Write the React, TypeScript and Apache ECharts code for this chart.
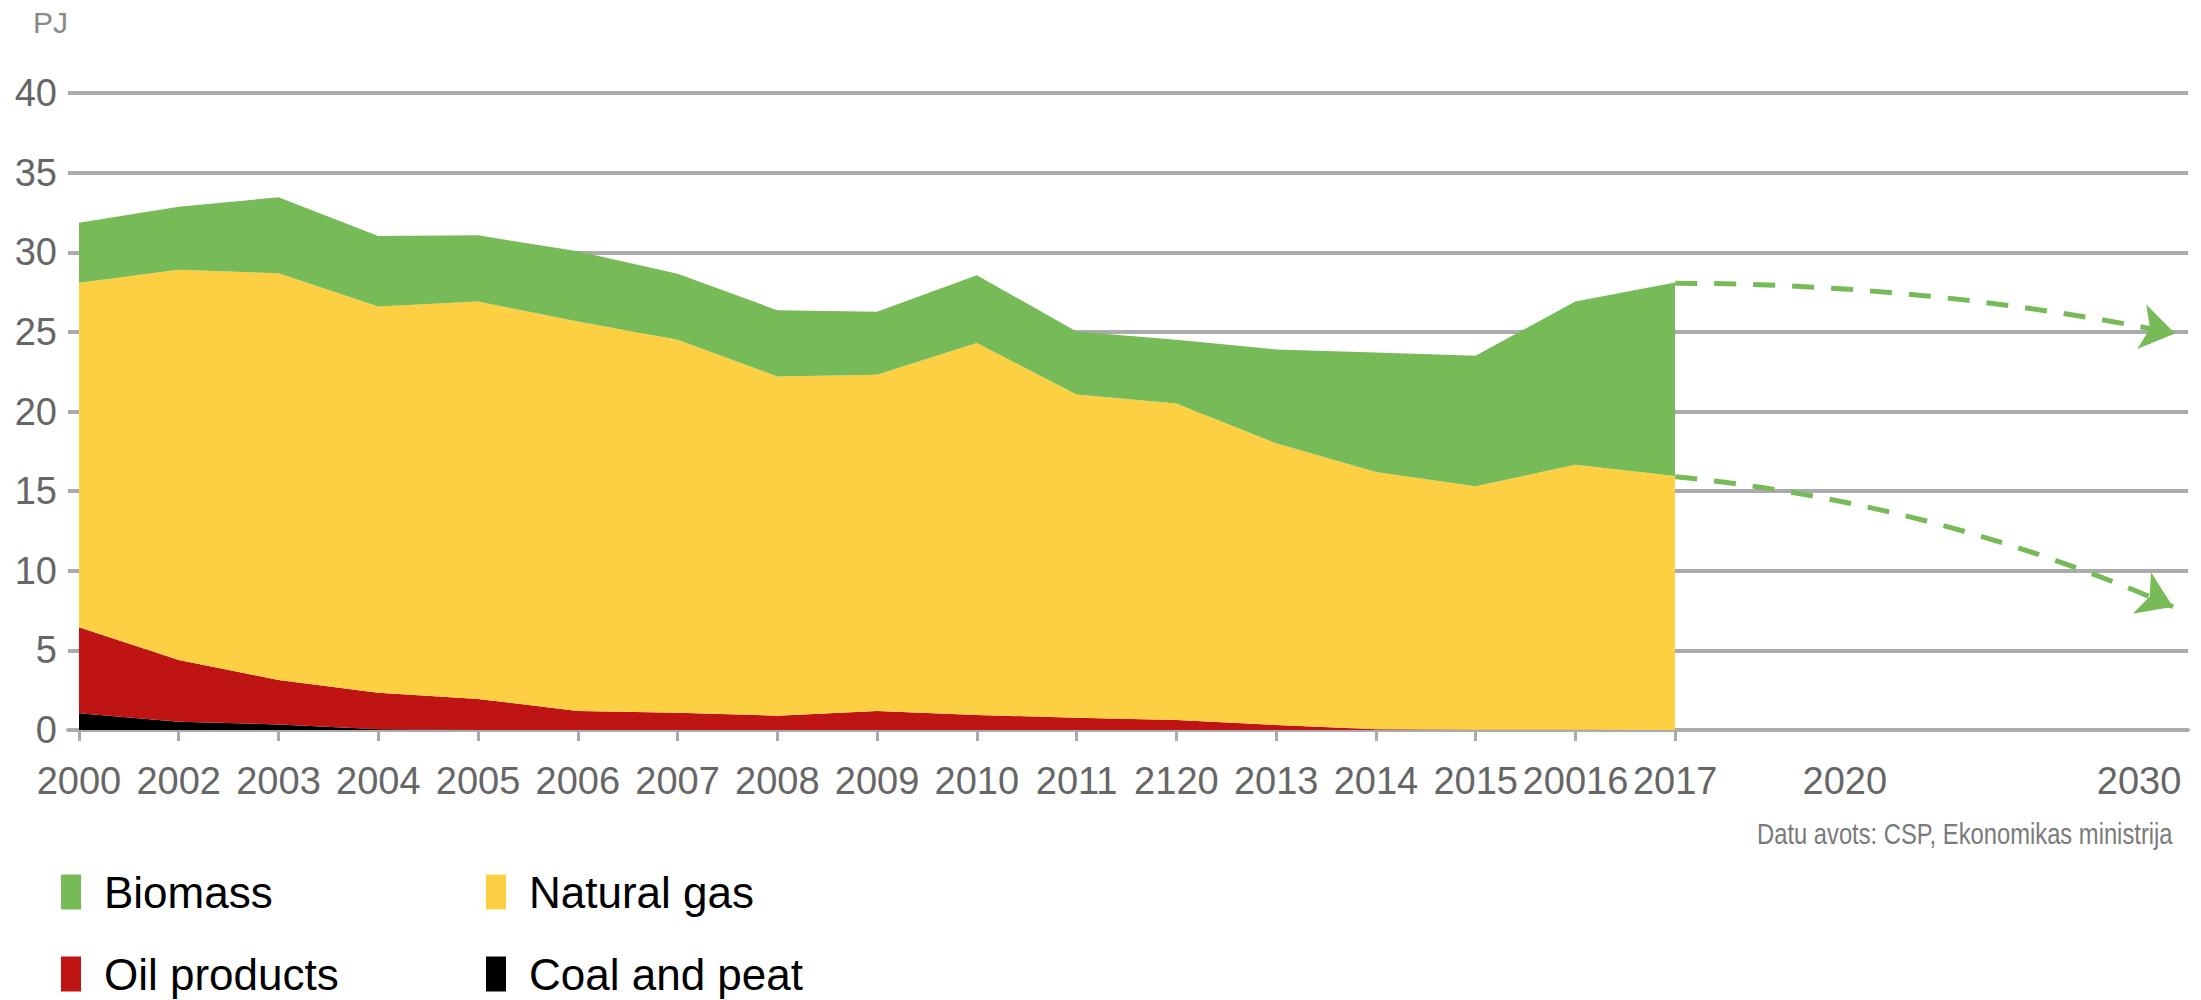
import React, { useEffect, useRef } from "react";
import * as echarts from "echarts";

const years = ["2000", "2002", "2003", "2004", "2005", "2006", "2007", "2008", "2009", "2010", "2011", "2120", "2013", "2014", "2015", "20016", "2017"];
const coal = [1.05, 0.52, 0.35, 0.05, 0, 0, 0, 0, 0, 0, 0, 0, 0, 0, 0, 0, 0];
const oil = [5.4, 3.88, 2.79, 2.29, 1.95, 1.19, 1.09, 0.9, 1.19, 0.94, 0.77, 0.63, 0.31, 0.05, 0.02, 0.02, 0];
const gas = [21.64, 24.5, 25.54, 24.26, 24.95, 24.46, 23.41, 21.3, 21.11, 23.36, 20.3, 19.87, 17.69, 16.15, 15.28, 16.64, 15.95];
const biomass = [3.77, 3.96, 4.77, 4.42, 4.16, 4.41, 4.15, 4.16, 3.97, 4.26, 3.96, 4.0, 5.9, 7.5, 8.2, 10.24, 12.15];

// projection labels on the x axis (position in category steps)
const projectionLabels = ["2020", "2030"];
const projectionPos = [17.7, 20.65];

// projection trends: [start, end] as [position, PJ]
const biomassTrend = [[16, 28.05], [21.01, 24.9]];
const gasTrend = [[16, 15.9], [20.99, 7.74]];

const GREEN = "#77BB59";
const YELLOW = "#FDD043";
const RED = "#BE1414";
const BLACK = "#000000";
const GRID = "#ABABAD";
const LABEL = "#666666";

export default function App() {
  const ref = useRef<HTMLDivElement>(null);
  useEffect(() => {
    if (!ref.current) return;
    const chart = echarts.init(ref.current, undefined, { renderer: "svg" });
    const labelMap: Record<string, string> = {};
    years.forEach((y, i) => (labelMap[String(i)] = y));
    projectionPos.forEach((p, i) => (labelMap[String(p)] = projectionLabels[i]));

    const area = (name: string, data: number[], color: string) => ({
      name,
      type: "line",
      stack: "total",
      xAxisIndex: 0,
      yAxisIndex: 0,
      data,
      symbol: "none",
      color,
      itemStyle: { color },
      lineStyle: { width: 0, color },
      areaStyle: { color, opacity: 1 },
      z: 2,
    });

    const legendCommon = {
      top: 870,
      height: 400,
      padding: 0,
      orient: "vertical",
      icon: "rect",
      itemWidth: 20,
      itemHeight: 35,
      itemGap: 38,
      selectedMode: false,
      textStyle: { fontSize: 44, color: "#000", fontFamily: "Liberation Sans", lineHeight: 35, padding: [0, 0, 0, 18] },
    };

    chart.setOption({
      animation: false,
      grid: [
        { left: 79, right: 2201 - 1675, top: 93, bottom: 270, containLabel: false },
        { left: 68, right: 13, top: 93, bottom: 270, containLabel: false },
      ],
      xAxis: [
        {
          type: "category",
          gridIndex: 0,
          data: years,
          boundaryGap: false,
          show: false,
        },
        {
          type: "value",
          gridIndex: 1,
          min: -0.11,
          max: 21.14,
          splitLine: { show: false },
          axisLine: { show: true, onZero: false, lineStyle: { color: GRID, width: 4 } },
          axisTick: {
            show: true,
            customValues: years.map((_, i) => i),
            length: 11,
            lineStyle: { color: GRID, width: 3 },
          },
          axisLabel: {
            customValues: [...years.map((_, i) => i), ...projectionPos],
            formatter: (v: number) => labelMap[String(v)] ?? "",
            color: LABEL,
            fontSize: 38,
            fontFamily: "Liberation Sans",
            margin: 32,
          },
        },
      ],
      yAxis: [
        { type: "value", gridIndex: 0, min: 0, max: 40, show: false, splitLine: { show: false } },
        {
          type: "value",
          gridIndex: 1,
          min: 0,
          max: 40,
          interval: 5,
          name: "PJ",
          nameLocation: "end",
          nameGap: 71,
          nameTextStyle: {
            color: "#8a8a8a",
            fontSize: 30,
            fontFamily: "Liberation Sans",
            align: "right",
            verticalAlign: "middle",
            padding: [0, 11, 0, 0],
          },
          axisLine: { show: false },
          axisTick: { show: false },
          splitLine: { show: true, lineStyle: { color: GRID, width: 4 } },
          axisLabel: { color: LABEL, fontSize: 38, fontFamily: "Liberation Sans", margin: 11 },
        },
      ],
      legend: [
        { ...legendCommon, left: 61, data: ["Biomass", "Oil products"] },
        { ...legendCommon, left: 486, data: ["Natural gas", "Coal and peat"] },
      ],
      graphic: [
        {
          type: "text",
          x: 1757,
          y: 820,
          scaleX: 0.82,
          style: {
            text: "Datu avots: CSP, Ekonomikas ministrija",
            font: "29px 'Liberation Sans'",
            fill: "#7a7a7a",
          },
        },
      ],
      series: [
        area("Coal and peat", coal, BLACK),
        area("Oil products", oil, RED),
        area("Natural gas", gas, YELLOW),
        area("Biomass", biomass, GREEN),
        {
          name: "trend",
          type: "lines",
          coordinateSystem: "cartesian2d",
          xAxisIndex: 1,
          yAxisIndex: 1,
          z: 5,
          symbol: ["none", "arrow"],
          symbolSize: [26, 34],
          silent: true,
          lineStyle: { color: GREEN, width: 5, type: [22, 17], opacity: 1 },
          data: [
            { coords: biomassTrend, lineStyle: { curveness: 0.05 } },
            { coords: gasTrend, lineStyle: { curveness: 0.08 } },
          ],
        },
      ],
    });
    return () => chart.dispose();
  }, []);
  return (
    <div
      ref={ref}
      style={{ position: "fixed", left: 0, top: 0, width: 2201, height: 1000, background: "#fff" }}
    />
  );
}
